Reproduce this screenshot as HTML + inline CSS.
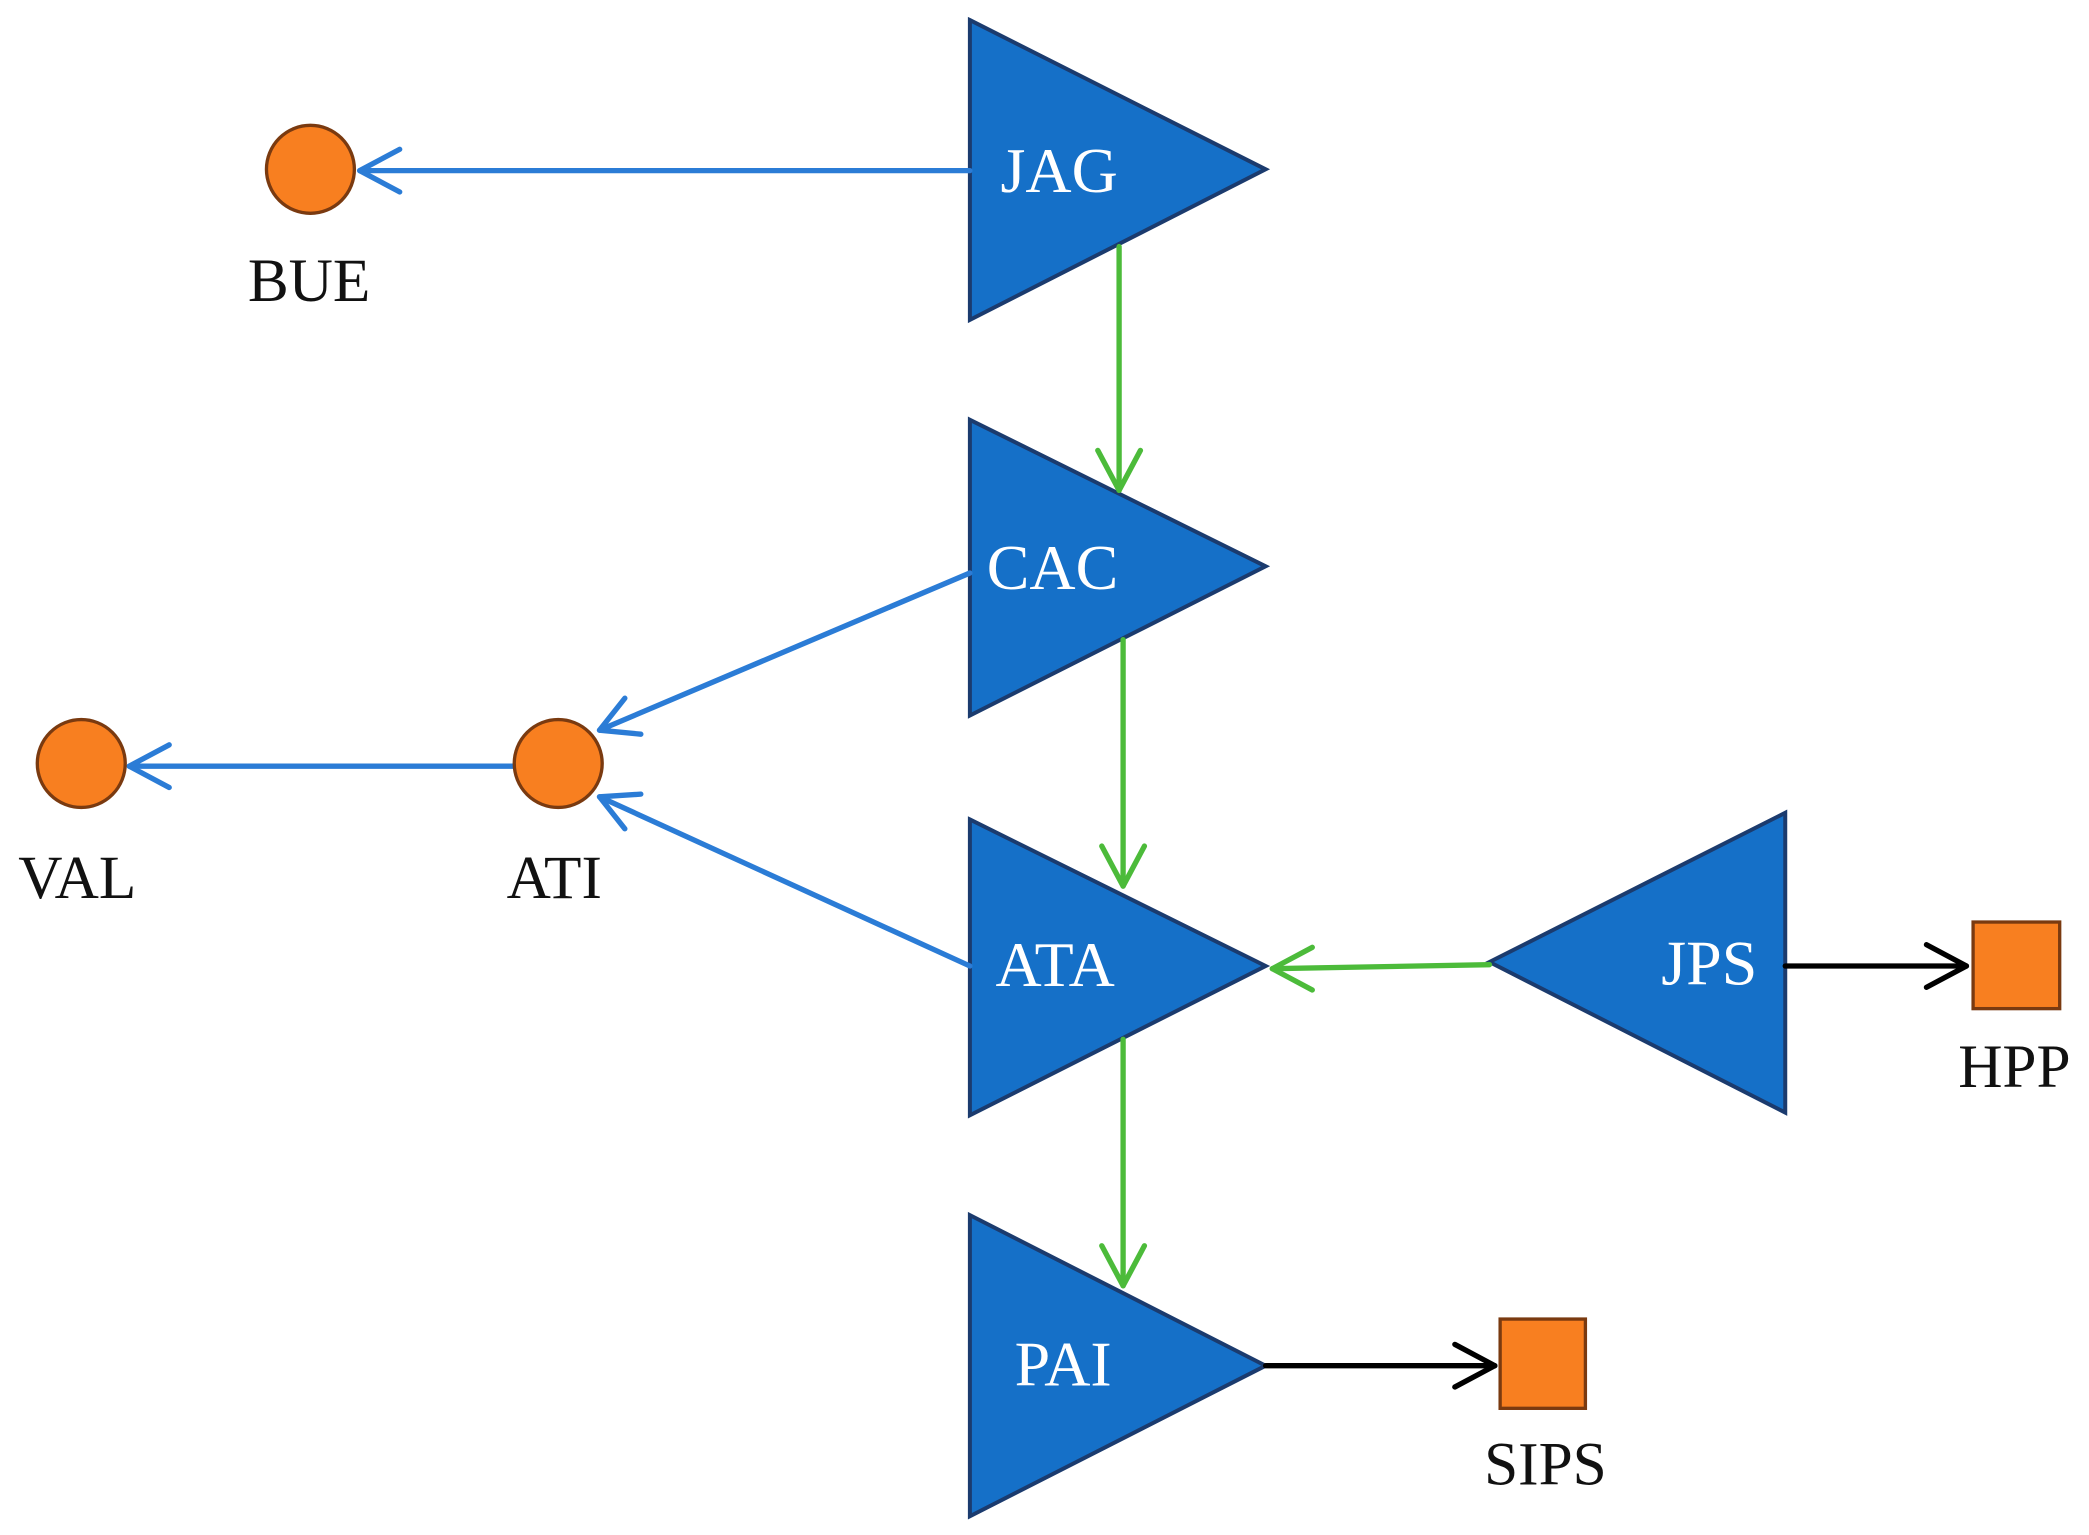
<!DOCTYPE html>
<html><head><meta charset="utf-8"><style>html,body{margin:0;padding:0;background:#fff}svg{display:block}</style></head>
<body>
<svg width="2089" height="1535" viewBox="0 0 1568 1152" xmlns="http://www.w3.org/2000/svg">
<g fill="#1570c8" stroke="#1b3b6e" stroke-width="3">
<polygon points="728,15 950,127 728,240"/>
<polygon points="728,315 950,425 728,537"/>
<polygon points="728,615 950,725 728,837"/>
<polygon points="728,912 950,1025 728,1138"/>
<polygon points="1340,610 1118,722 1340,835"/>
</g>
<g fill="none" stroke-width="4" stroke-linecap="round" stroke-linejoin="round">
<g stroke="#2b7cd6">
<line x1="728" y1="128" x2="270" y2="128"/><polyline points="300,112 270,128 300,144"/>
<line x1="728" y1="430" x2="450" y2="548"/><polyline points="469,524 450,548 481,551"/>
<line x1="385" y1="575" x2="97" y2="575"/><polyline points="127,559 97,575 127,591"/>
<line x1="728" y1="725" x2="450" y2="598"/><polyline points="481,596 450,598 469,622"/>
</g>
<g stroke="#4cbb3a">
<line x1="840" y1="185" x2="840" y2="368"/><polyline points="824,338 840,368 856,338"/>
<line x1="843" y1="480" x2="843" y2="665"/><polyline points="827,635 843,665 859,635"/>
<line x1="843" y1="780" x2="843" y2="965"/><polyline points="827,935 843,965 859,935"/>
<line x1="1118" y1="724" x2="955" y2="727"/><polyline points="985,711 955,727 985,743"/>
</g>
<g stroke="#000">
<line x1="1340" y1="725" x2="1476" y2="725"/><polyline points="1446,709 1476,725 1446,741"/>
<line x1="950" y1="1025" x2="1122" y2="1025"/><polyline points="1092,1009 1122,1025 1092,1041"/>
</g>
</g>
<g fill="#f87f20" stroke="#7a3a10" stroke-width="2.5">
<circle cx="233" cy="127" r="33"/>
<circle cx="61" cy="573" r="33"/>
<circle cx="419" cy="573" r="33"/>
<rect x="1481" y="692" width="65" height="65"/>
<rect x="1126" y="990" width="64" height="67"/>
</g>
<g font-family="'Liberation Serif', serif" font-size="46" text-anchor="middle" fill="#111">
<text x="232" y="226">BUE</text>
<text x="58" y="674">VAL</text>
<text x="416" y="674">ATI</text>
<text x="1512" y="816">HPP</text>
<text x="1160" y="1114">SIPS</text>
</g>
<g font-family="'Liberation Serif', serif" font-size="48" text-anchor="middle" fill="#fff">
<text x="795" y="144">JAG</text>
<text x="790" y="442">CAC</text>
<text x="792" y="740">ATA</text>
<text x="798" y="1040">PAI</text>
<text x="1283" y="739">JPS</text>
</g>
</svg>
</body></html>
